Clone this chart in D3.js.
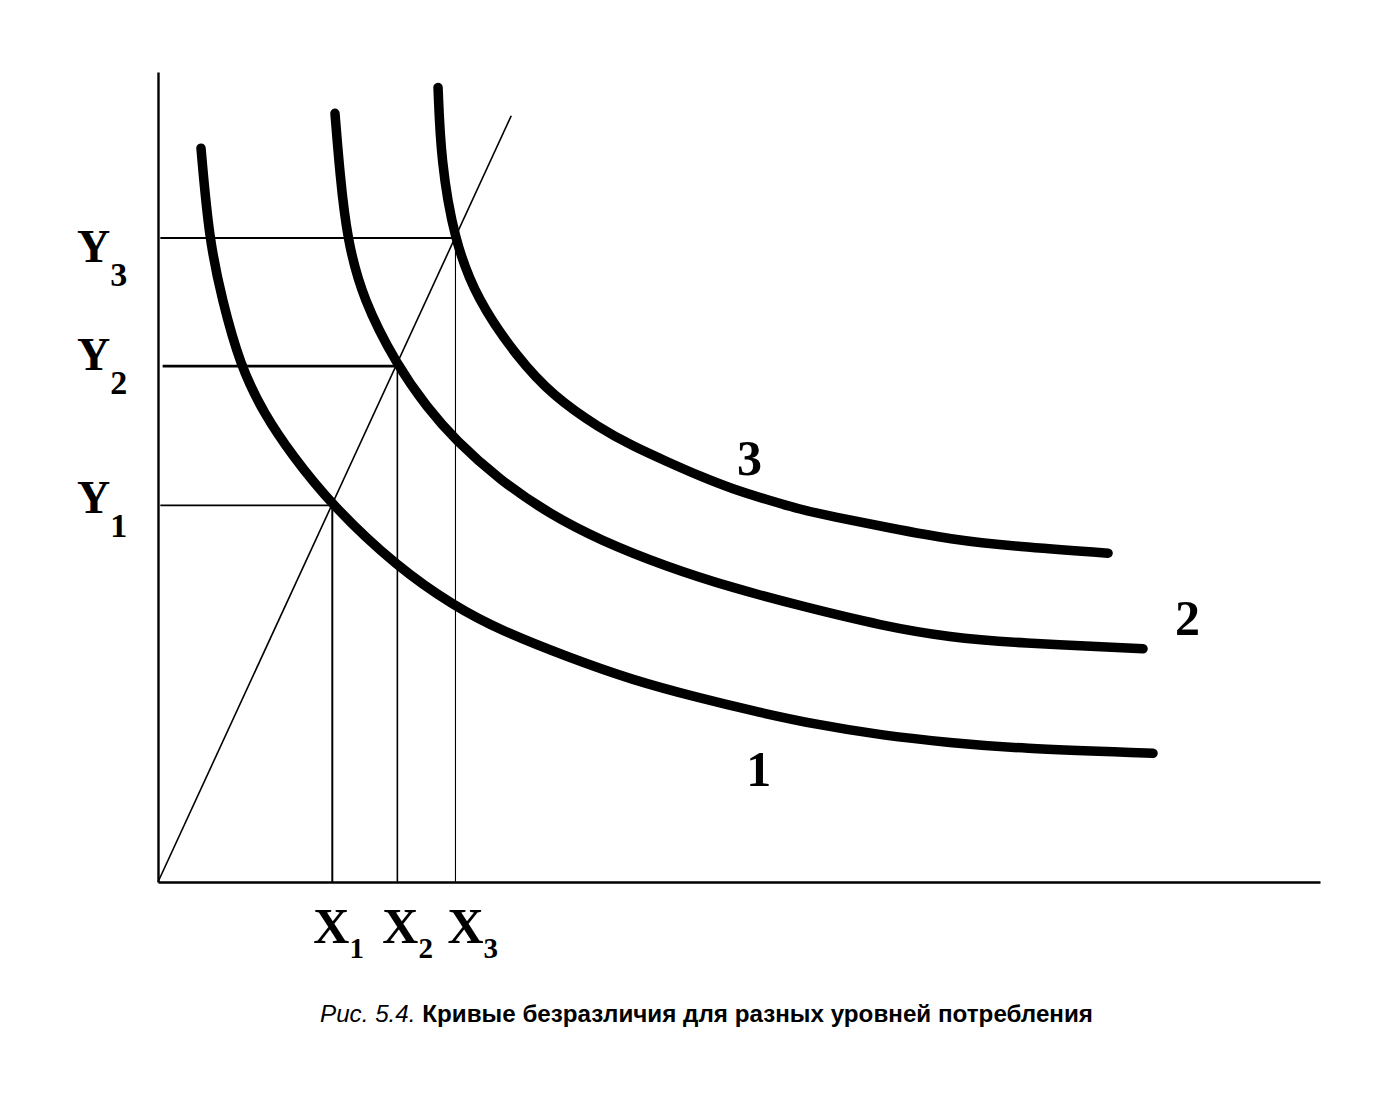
<!DOCTYPE html>
<html>
<head>
<meta charset="utf-8">
<script src="https://cdn.jsdelivr.net/npm/d3@7"></script>
<style>
  html, body { margin: 0; padding: 0; background: #fff; }
  svg { display: block; }
</style>
</head>
<body>
<svg id="chart" width="1392" height="1097"></svg>
<script>
// ---- data (units: x 0..100, y 0..100) ----
const curve1 = [[3.70,90.6],[4.39,79.4],[5.51,71.9],[7.06,63.8],[9.12,57.8],[11.53,52.7],[14.97,46.5],[20.57,38.9],[25.56,34.0],[29.43,31.1],[35.20,27.8],[40.88,24.9],[46.64,22.7],[50.95,21.2],[56.71,19.4],[62.39,18.1],[68.16,17.2],[73.92,16.5],[85.63,15.9]];
const curve2 = [[15.23,94.9],[15.66,87.3],[16.27,79.4],[17.64,71.9],[20.57,63.8],[23.15,58.6],[25.56,54.6],[29.43,49.6],[33.73,45.4],[38.04,42.2],[43.80,38.9],[49.48,36.3],[55.25,34.1],[62.39,31.6],[68.16,30.2],[73.92,29.5],[84.77,28.8]];
const curve3 = [[24.10,98.1],[24.35,89.1],[25.47,79.4],[27.45,71.9],[30.90,64.8],[33.99,60.0],[38.04,56.0],[40.88,53.8],[43.80,51.9],[46.64,50.1],[49.48,48.5],[52.41,47.2],[55.25,46.0],[58.09,45.1],[62.99,43.7],[68.16,42.3],[73.92,41.4],[81.76,40.6]];
const rayLine = [[0,0],[30.4,94.6]];
const xLevels = [15.0, 20.6, 25.6];
const yLevels = [46.5, 63.7, 79.5];
const xLabelMain = ["X","X","X"];
const xLabelSub = ["1","2","3"];
const yLabelMain = ["Y","Y","Y"];
const yLabelSub = ["1","2","3"];
const curveLabels = ["1","2","3"];
const captionItalic = "Рис. 5.4.";
const captionBold = "Кривые безразличия для разных уровней потребления";

// ---- layout ----
const svg = d3.select("#chart");
const x = d3.scaleLinear().domain([0,100]).range([158,1320]);
const y = d3.scaleLinear().domain([0,100]).range([882,72]);
const serif = "'Liberation Serif','Times New Roman',serif";

// axes (no ticks)
svg.append("g").attr("transform","translate(0,882)")
  .call(d3.axisBottom(x).tickValues([]).tickSizeOuter(0))
  .call(g => g.select(".domain").attr("stroke","#000").attr("stroke-width",2.4));
svg.append("g").attr("transform","translate(158,0)")
  .call(d3.axisLeft(y).tickValues([]).tickSizeOuter(0))
  .call(g => g.select(".domain").attr("stroke","#000").attr("stroke-width",2.4));

// guide lines
const hW = [1.6, 2.8, 2.0];
const vW = [2.0, 1.6, 1.1];
const hStart = [0.2, 0.4, 0.2];
yLevels.forEach((yv,i) => {
  svg.append("line")
    .attr("x1", x(hStart[i])).attr("x2", x(xLevels[i]))
    .attr("y1", y(yv)).attr("y2", y(yv))
    .attr("stroke","#000").attr("stroke-width", hW[i]);
  svg.append("line")
    .attr("x1", x(xLevels[i])).attr("x2", x(xLevels[i]))
    .attr("y1", y(yv)).attr("y2", y(0))
    .attr("stroke","#000").attr("stroke-width", vW[i]);
});

// ray
const line = d3.line().x(d => x(d[0])).y(d => y(d[1]));
svg.append("path").attr("d", line(rayLine))
  .attr("fill","none").attr("stroke","#000").attr("stroke-width",1.6);

// indifference curves
const smooth = d3.line().x(d => x(d[0])).y(d => y(d[1])).curve(d3.curveBasis);
[curve1, curve2, curve3].forEach(c => {
  svg.append("path").attr("d", smooth(c))
    .attr("fill","none").attr("stroke","#000")
    .attr("stroke-width",9.5).attr("stroke-linecap","round").attr("stroke-linejoin","round");
});

// curve labels
const curveLabelPos = [[51.7,11.9],[88.6,30.5],[50.9,50.2]];
curveLabels.forEach((t,i) => {
  svg.append("text")
    .attr("x", x(curveLabelPos[i][0])).attr("y", y(curveLabelPos[i][1]))
    .attr("text-anchor","middle")
    .attr("font-family", serif).attr("font-weight","bold").attr("font-size",50)
    .text(t);
});

// y labels
const yLabelDy = [8, 4, 24];
yLevels.forEach((yv,i) => {
  const t = svg.append("text")
    .attr("x", 77).attr("y", y(yv) + yLabelDy[i])
    .attr("font-family", serif).attr("font-weight","bold");
  t.append("tspan").attr("font-size",46).text(yLabelMain[i]);
  t.append("tspan").attr("font-size",34).attr("dx",0).attr("dy",24).text(yLabelSub[i]);
});

// x labels
const xLabelDx = [-19, -15, -8];
xLevels.forEach((xv,i) => {
  const t = svg.append("text")
    .attr("x", x(xv) + xLabelDx[i]).attr("y", 943)
    .attr("font-family", serif).attr("font-weight","bold");
  t.append("tspan").attr("font-size",50).text(xLabelMain[i]);
  t.append("tspan").attr("font-size",29).attr("dx",0).attr("dy",15).text(xLabelSub[i]);
});

// caption
const cap = svg.append("text")
  .attr("x", 320).attr("y", 1022)
  .attr("font-family","'Liberation Sans',Arial,sans-serif").attr("font-size",23);
cap.append("tspan").attr("font-style","italic").text(captionItalic + " ");
cap.append("tspan").attr("font-weight","bold").text(captionBold);
cap.attr("textLength", 773).attr("lengthAdjust","spacingAndGlyphs");
</script>
</body>
</html>
